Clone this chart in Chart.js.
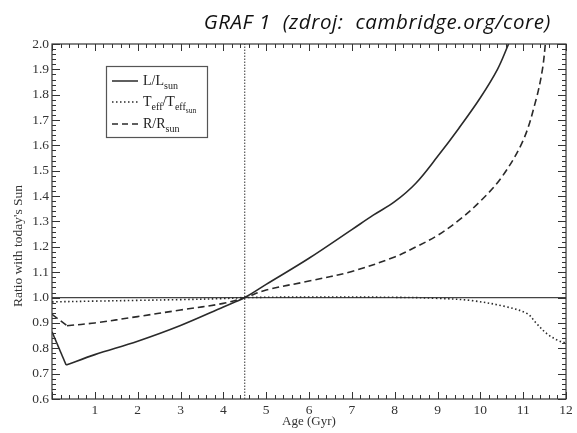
<!DOCTYPE html>
<html><head><meta charset="utf-8">
<script src="https://cdn.jsdelivr.net/npm/chart.js@4"></script>
<style>html,body{margin:0;padding:0;background:#fff}#wrap{width:577px;height:433px;position:relative}</style>
</head><body><div id="wrap"><canvas id="c" width="577" height="433"></canvas></div>
<script>
const titleText = "GRAF 1  (zdroj:  cambridge.org/core)";
const xTitle = "Age (Gyr)";
const yTitle = "Ratio with today's Sun";
const xTickValues = [1,2,3,4,5,6,7,8,9,10,11,12];
const yTickValues = [0.6,0.7,0.8,0.9,1.0,1.1,1.2,1.3,1.4,1.5,1.6,1.7,1.8,1.9,2.0];

const lumAge = [0, 0.33, 1, 2, 3, 4, 4.5, 5, 6, 7, 7.5, 8, 8.5, 9, 9.5, 10, 10.4, 10.66];
const lum    = [0.865, 0.734, 0.775, 0.828, 0.89, 0.963, 1.0, 1.052, 1.155, 1.268, 1.325, 1.378, 1.452, 1.556, 1.668, 1.788, 1.9, 2.0];

const teffAge = [0, 1, 2, 3, 4, 4.5, 6, 8, 9, 9.8, 10.6, 11.1, 11.3, 11.55, 11.8, 12];
const teff    = [0.983, 0.986, 0.989, 0.992, 0.996, 1.0, 1.002, 1.001, 0.997, 0.988, 0.964, 0.936, 0.9, 0.858, 0.832, 0.82];

const radAge = [0, 0.35, 1, 2, 3, 4, 4.5, 5, 6, 7, 8, 8.5, 9, 9.5, 10, 10.5, 11, 11.3, 11.45, 11.53];
const rad    = [0.934, 0.889, 0.9, 0.925, 0.951, 0.977, 1.0, 1.03, 1.065, 1.103, 1.16, 1.2, 1.245, 1.305, 1.38, 1.475, 1.62, 1.78, 1.9, 2.02];

const todayAge = 4.5;
const refRatio = 1.0;

const legendItems = [
  {parts:[["L/L",0],["sun",1]], dash:[]},
  {parts:[["T",0],["eff",1],["/T",0],["eff",1],["sun",2]], dash:[1.5,2.5]},
  {parts:[["R/R",0],["sun",1]], dash:[6,4]}
];

const pts = (xs, ys) => xs.map((x,i)=>({x:x, y:ys[i]}));
const ink = '#2a2a2a';
const serif = '"Liberation Serif", "DejaVu Serif", serif';

const decor = {
  id:'decor',
  afterDraw(chart){
    const ctx = chart.ctx, a = chart.chartArea;
    const xs = chart.scales.x, ys = chart.scales.y;
    ctx.save();
    ctx.strokeStyle = '#333'; ctx.lineWidth = 1.2; ctx.setLineDash([]);
    ctx.strokeRect(a.left, a.top, a.right-a.left, a.bottom-a.top);
    ctx.lineWidth = 1;
    for (let i=0;i<=60;i++){
      const v = i*0.2; const p = Math.round(xs.getPixelForValue(v))+0.5;
      const L = (i%5===0)?7:4;
      ctx.beginPath(); ctx.moveTo(p,a.bottom); ctx.lineTo(p,a.bottom-L);
      ctx.moveTo(p,a.top); ctx.lineTo(p,a.top+L); ctx.stroke();
    }
    for (let i=0;i<=70;i++){
      const v = 0.6+i*0.02; const p = Math.round(ys.getPixelForValue(v))+0.5;
      const L = (i%5===0)?8:4;
      ctx.beginPath(); ctx.moveTo(a.left,p); ctx.lineTo(a.left+L,p);
      ctx.moveTo(a.right,p); ctx.lineTo(a.right-L,p); ctx.stroke();
    }
    // title
    ctx.fillStyle = '#111';
    ctx.font = 'italic 20.5px "Open Sans", sans-serif';
    try { ctx.letterSpacing = '0.6px'; } catch(e) {}
    ctx.textAlign = 'right'; ctx.textBaseline = 'alphabetic';
    ctx.fillText(titleText, 551, 29);
    try { ctx.letterSpacing = '0px'; } catch(e) {}
    // axis titles
    ctx.fillStyle = '#333';
    ctx.font = '13px ' + serif;
    ctx.textAlign = 'center';
    ctx.fillText(xTitle, (a.left+a.right)/2, 425);
    ctx.save();
    ctx.translate(22, 246); ctx.rotate(-Math.PI/2);
    ctx.textBaseline = 'alphabetic';
    ctx.font = '13.5px ' + serif;
    ctx.fillText(yTitle, 0, 0);
    ctx.restore();
    // legend
    const bx = 106, by = 66, bw = 101, bh = 71;
    ctx.strokeStyle = '#555'; ctx.lineWidth = 1.2;
    ctx.strokeRect(bx+0.5, by+0.5, bw, bh);
    const rows = [81, 102, 124];
    ctx.textAlign = 'left';
    legendItems.forEach((it, k)=>{
      const y = rows[k];
      ctx.strokeStyle = ink; ctx.lineWidth = 1.5; ctx.setLineDash(it.dash);
      ctx.beginPath(); ctx.moveTo(112, y); ctx.lineTo(138, y); ctx.stroke();
      ctx.setLineDash([]);
      let x = 143;
      it.parts.forEach(([t, lvl])=>{
        const size = lvl===0 ? 14 : (lvl===1 ? 10 : 7.5);
        const off = lvl===0 ? 0 : (lvl===1 ? 4 : 7);
        ctx.font = size + 'px ' + serif;
        ctx.fillStyle = '#222';
        ctx.fillText(t, x, y + 4 + off);
        x += ctx.measureText(t).width;
      });
    });
    ctx.restore();
  }
};

const lineStyle = {showLine:true, borderColor:ink, borderWidth:1.6, pointRadius:0, tension:0.35};
const straight = {showLine:true, borderColor:ink, borderWidth:1.6, pointRadius:0, tension:0};
const lumPts = pts(lumAge, lum), radPts = pts(radAge, rad);

new Chart(document.getElementById('c'), {
  type:'scatter',
  data:{ datasets:[
    Object.assign({label:'L/Lsun early', data:lumPts.slice(0,2)}, straight),
    Object.assign({label:'L/Lsun', data:lumPts.slice(1)}, lineStyle),
    Object.assign({label:'Teff/Teffsun', data:pts(teffAge, teff), borderDash:[1.5,2.5]}, lineStyle),
    Object.assign({label:'R/Rsun early', data:radPts.slice(0,2), borderDash:[7,4]}, straight),
    Object.assign({label:'R/Rsun', data:radPts.slice(1), borderDash:[7,4]}, lineStyle),
    {label:'today', data:[{x:todayAge,y:0.6},{x:todayAge,y:2.0}], showLine:true, borderColor:'#333', borderWidth:1, borderDash:[1.5,1.5], pointRadius:0},
    {label:'ref', data:[{x:0,y:refRatio},{x:12,y:refRatio}], showLine:true, borderColor:'#444', borderWidth:1.3, pointRadius:0}
  ]},
  options:{
    responsive:false, animation:false, devicePixelRatio:1,
    layout:{padding:{top:44, right:11, left:0, bottom:0}},
    plugins:{legend:{display:false}, tooltip:{enabled:false}, title:{display:false}},
    scales:{
      x:{type:'linear', min:0, max:12,
        afterBuildTicks(s){ s.ticks = xTickValues.map(v=>({value:v})); },
        afterFit(s){ s.height = 34; },
        grid:{display:false, drawTicks:false}, border:{display:false},
        ticks:{padding:3, color:'#333', font:{family:serif, size:13.5}, maxRotation:0, autoSkip:false, callback:(v)=>String(v)}
      },
      y:{type:'linear', min:0.6, max:2.0,
        afterBuildTicks(s){ s.ticks = yTickValues.map(v=>({value:v})); },
        afterFit(s){ s.width = 52; },
        grid:{display:false, drawTicks:false}, border:{display:false},
        ticks:{padding:3, color:'#333', font:{family:serif, size:13.5}, autoSkip:false, callback:(v)=>Number(v).toFixed(1)}
      }
    }
  },
  plugins:[decor]
});
</script></body></html>
